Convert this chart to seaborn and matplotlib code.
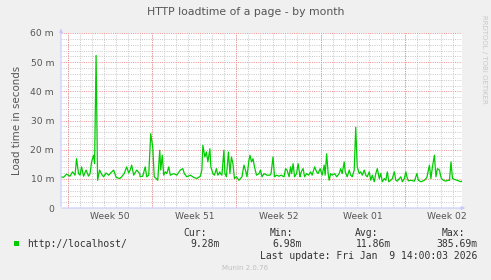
import matplotlib
matplotlib.use("Agg")
import matplotlib.pyplot as plt
import seaborn as sns
import pandas as pd
import numpy as np

# hours since start of graph (2 h per pixel, 800 h span)
hours = [0, 5, 11, 18, 23, 28, 31, 35, 38, 41, 45, 50, 55, 58, 61, 65, 67, 70, 73, 77,
         81, 85, 90, 95, 98, 105, 110, 117, 121, 126, 131, 135, 138, 141, 145, 151, 157,
         158, 163, 168, 171, 175, 179, 183, 186, 190, 193, 197, 199, 202, 205, 208, 211,
         215, 218, 225, 231, 238, 243, 246, 251, 258, 265, 271, 278, 281, 283, 287, 290,
         293, 297, 299, 303, 306, 310, 313, 317,
         318, 321, 325, 327, 330, 334, 337, 340, 343, 346, 350, 355, 358, 361, 365, 368,
         371, 375, 377, 380, 383, 386, 390, 395, 398, 401, 405, 411, 417, 419, 423, 426,
         430, 435, 439, 445, 448, 451, 455, 458, 460, 463, 466, 470, 473, 477,
         478, 481, 483, 486, 490, 494, 498, 501, 506, 510, 513, 517, 521, 525, 527, 530,
         533, 535, 538, 541, 546, 550, 555, 558, 561, 565, 567, 571, 575, 578, 581, 585,
         588, 591, 595, 598, 601, 605, 608, 611, 615, 618, 621, 625, 628, 631, 635, 638,
         641, 645, 648, 651, 654, 658, 661, 665, 668, 671, 675, 678, 681, 685, 688, 690,
         693, 698, 705, 710, 713, 718, 725, 730, 735, 738, 741, 745, 748, 751, 755, 757,
         759, 763, 768, 771, 775, 778, 781, 785, 790, 795, 798, 800]
loadtime_ms = [10.7, 10.5, 11.6, 10.9, 12.4, 11.25, 16.9, 11.8, 11.25, 14.1, 10.9, 13.0,
               10.9, 11.8, 15.8, 18.1, 15.2, 52.3, 9.5, 13.0, 11.6, 10.7, 12.0, 11.25, 11.8,
               13.0, 10.5, 10.1, 10.7, 11.8, 14.1, 12.0, 13.0, 14.7, 11.25, 13.0, 11.8,
               10.7, 10.9, 14.1, 10.7, 11.25, 25.5, 20.9, 10.7, 10.1, 9.5, 19.8, 13.0, 18.1,
               11.25, 12.4, 11.8, 14.1, 11.25, 11.8, 11.25, 13.0, 13.5, 11.8, 10.7, 11.25,
               10.5, 10.1, 10.9, 13.0, 21.5, 17.5, 19.2, 15.8, 20.3, 14.1, 11.8, 11.25, 13.5,
               11.25, 12.4,
               11.8, 11.25, 19.8, 11.8, 10.7, 19.2, 11.8, 17.5, 15.2, 10.1, 10.7, 9.5, 10.1,
               10.7, 14.7, 13.0, 10.7, 16.4, 18.1, 15.8, 16.9, 14.1, 11.25, 11.8, 13.0, 10.7,
               11.8, 11.25, 11.25, 11.8, 17.5, 10.7, 11.25, 10.9, 11.25, 10.7, 13.5, 13.0,
               10.7, 14.1, 11.8, 15.2, 10.7, 11.8, 15.2, 10.7,
               11.8, 13.0, 13.5, 10.7, 11.8, 11.25, 12.4, 11.25, 14.1, 12.4, 11.8, 13.5,
               11.25, 14.7, 11.25, 18.6, 11.8, 9.5, 11.8, 11.25, 11.8, 10.7, 11.8, 13.5,
               11.8, 15.8, 12.4, 10.7, 13.0, 11.25, 10.7, 13.0, 27.7, 14.1, 11.8, 12.4,
               11.25, 13.0, 11.25, 10.7, 12.4, 9.5, 11.25, 9.0, 11.8, 13.5, 10.1, 11.8,
               9.0, 10.1, 9.5, 12.4, 9.0, 9.5, 10.1, 12.4, 9.5, 9.2, 10.1, 10.7, 9.0, 10.1,
               12.4, 10.7, 9.3, 9.5, 9.2, 11.8, 9.5, 9.0, 9.5, 10.5, 14.7, 10.1, 14.1, 18.1,
               10.7, 13.5, 13.0, 11.25, 10.1, 9.5, 9.2, 9.5, 9.5, 15.8, 10.1, 9.8, 9.5, 9.2,
               9.0, 9.28]

week_labels = ["Week 50", "Week 51", "Week 52", "Week 01", "Week 02"]
week_starts = [14, 182, 350, 518, 686]
y_ticks = [0, 10, 20, 30, 40, 50, 60]
y_tick_labels = ["0", "10 m", "20 m", "30 m", "40 m", "50 m", "60 m"]

series_name = "http://localhost/"
stats_head = ["Cur:", "Min:", "Avg:", "Max:"]
stats_vals = ["9.28m", "6.98m", "11.86m", "385.69m"]

df = pd.DataFrame({"hours": hours, "load": loadtime_ms})

W, H = 491, 280
fig = plt.figure(figsize=(W / 100, H / 100), dpi=100, facecolor="#F0F0F0")
L, R, B, T = 61, 462, 208, 33
ax = fig.add_axes([L / W, 1 - B / H, (R - L) / W, (B - T) / H])
ax.set_facecolor("white")

ax.set_xlim(0, 800)
ax.set_ylim(0, 60)

dots = (0, (1, 1.3))
for yy in np.arange(2, 60.1, 2):
    if yy % 10 != 0:
        ax.axhline(yy, color="#C8C8C8", lw=0.7, ls=dots, zorder=0)
for xx in np.arange(14, 800, 24):
    ax.axvline(xx, color="#C8C8C8", lw=0.7, ls=dots, zorder=0)
for yy in y_ticks[1:]:
    ax.axhline(yy, color="#F08C8C", lw=0.7, ls=dots, zorder=0.5)
for xx in week_starts:
    ax.axvline(xx, color="#F08C8C", lw=0.7, ls=dots, zorder=0.5)

sns.lineplot(data=df, x="hours", y="load", ax=ax, color="#00CC00", lw=0.9,
             legend=False, zorder=3)

for s in ax.spines.values():
    s.set_visible(False)
ax.set_xlabel("")
ax.set_ylabel("Load time in seconds", color="#555555", fontsize=7.4, labelpad=6)

ax.set_yticks(y_ticks)
ax.set_yticklabels(y_tick_labels)
centers = [w + 84 for w in week_starts]
ax.set_xticks(centers)
ax.set_xticklabels(week_labels)
ax.tick_params(axis="both", length=0, labelsize=6.6, labelcolor="#555555", pad=3)
ax.tick_params(axis="y", pad=5)

ax.annotate("", xy=(0, 62.5), xytext=(0, -0.5), xycoords="data",
            arrowprops=dict(arrowstyle="-|>", color="#C8C8FF", lw=0.8,
                            mutation_scale=5), annotation_clip=False)
ax.annotate("", xy=(812, 0), xytext=(-4, 0), xycoords="data",
            arrowprops=dict(arrowstyle="-|>", color="#C8C8FF", lw=0.8,
                            mutation_scale=5), annotation_clip=False)

def px(x, y):
    return x / W, 1 - y / H

fig.text(*px(245.5, 12), "HTTP loadtime of a page - by month", ha="center", va="center",
         fontsize=7.8, color="#555555")
fig.text(*px(484, 15), "RRDTOOL / TOBI OETIKER", rotation=-90, ha="center", va="top",
         fontsize=5, color="#C8C8C8")

mono = "DejaVu Sans Mono"
fig.patches.append(plt.Rectangle(px(14, 246), 5 / W, 5 / H, transform=fig.transFigure,
                                 facecolor="#00CC00", edgecolor="none"))
fig.text(*px(27, 244), series_name, family=mono, fontsize=7, color="#333333",
         ha="left", va="center")
head_right = [207, 293, 378, 465]
val_right = [220, 302, 391, 477]
for h_, v_, hr, vr in zip(stats_head, stats_vals, head_right, val_right):
    fig.text(*px(hr, 233), h_, family=mono, fontsize=7, color="#333333",
             ha="right", va="center")
    fig.text(*px(vr, 244), v_, family=mono, fontsize=7, color="#333333",
             ha="right", va="center")
fig.text(*px(477, 256), "Last update: Fri Jan  9 14:00:03 2026", family=mono,
         fontsize=7, color="#333333", ha="right", va="center")
fig.text(*px(245, 268), "Munin 2.0.76", fontsize=5, color="#C0C0C0",
         ha="center", va="center")

fig.savefig("out.png", dpi=100, facecolor=fig.get_facecolor())
